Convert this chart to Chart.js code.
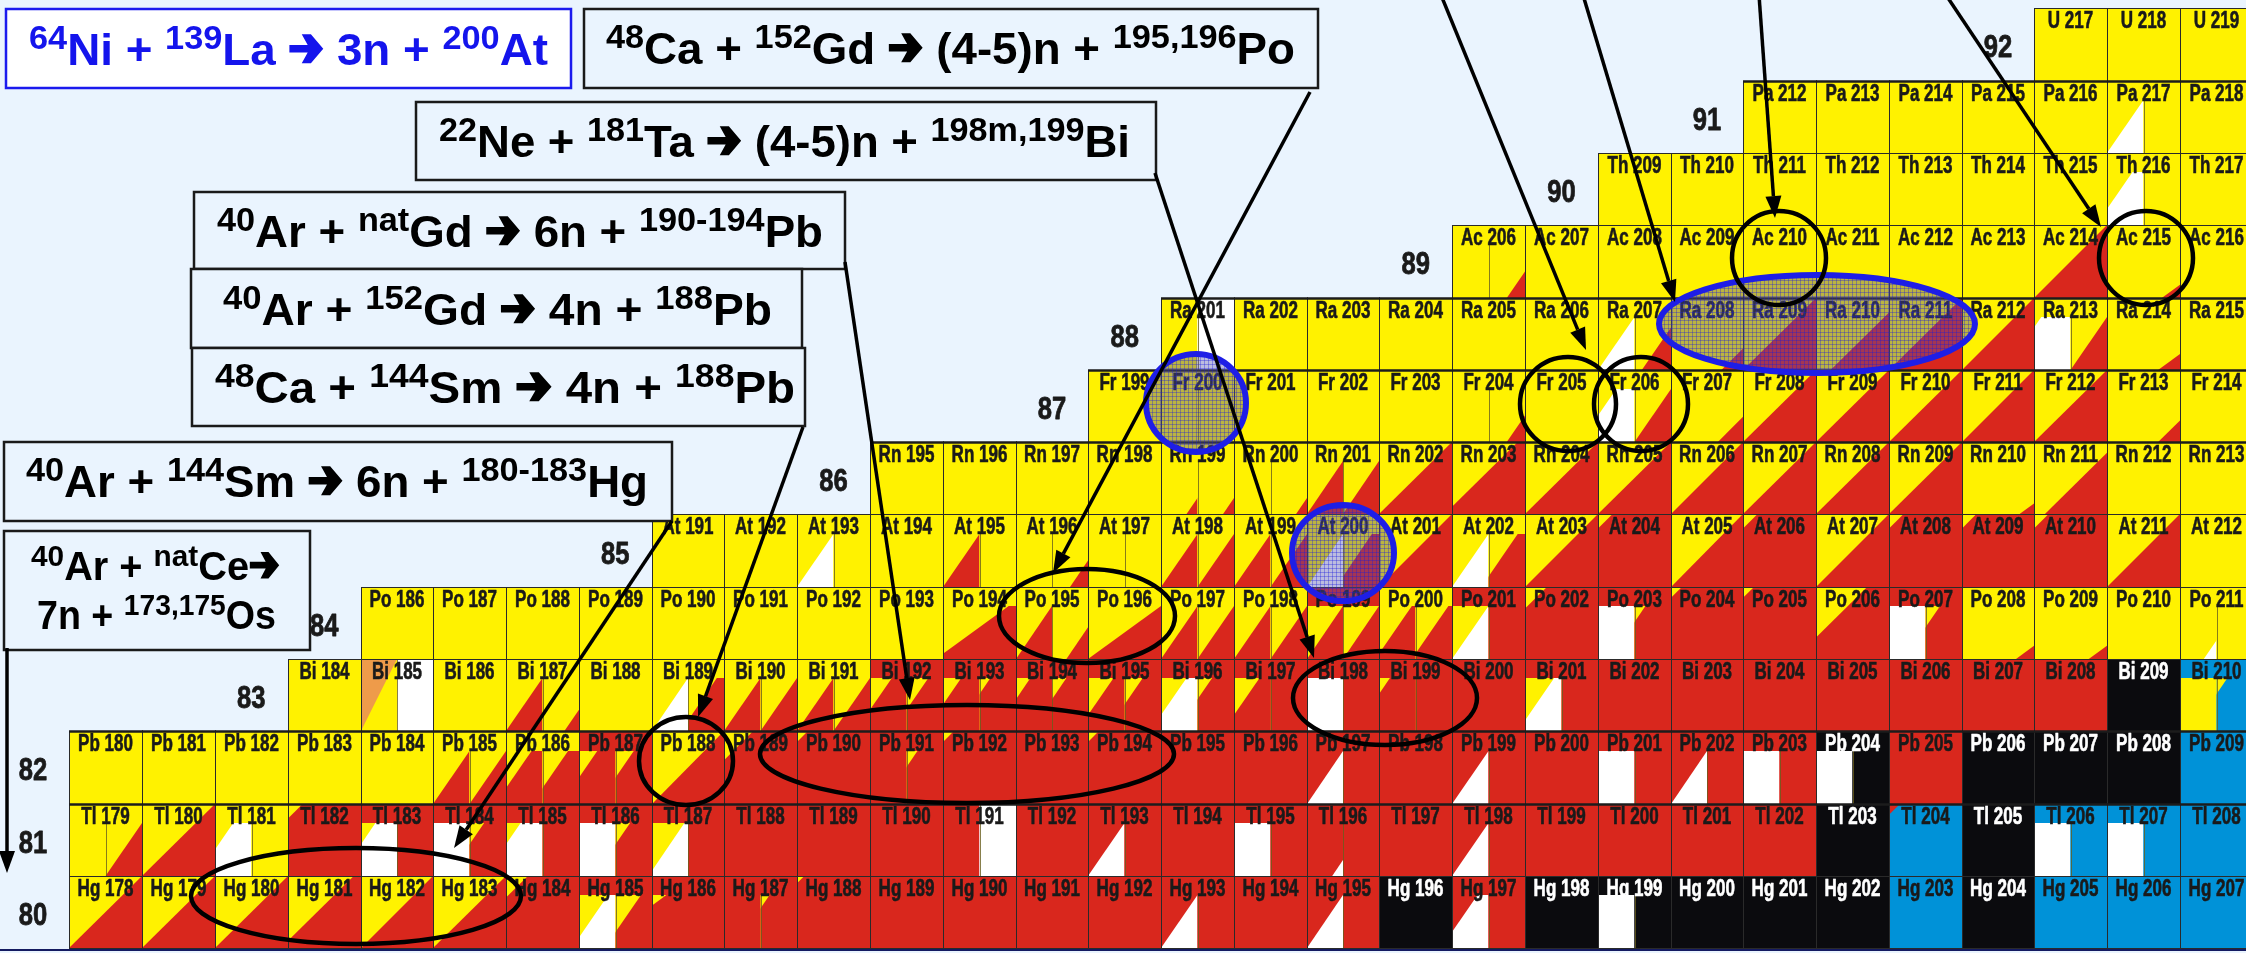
<!DOCTYPE html>
<html><head><meta charset="utf-8">
<script src="https://cdn.jsdelivr.net/npm/chart.js@4.4.0/dist/chart.umd.min.js"></script>
<style>html,body{margin:0;padding:0;background:#eaf4fe;overflow:hidden}canvas{display:block}</style>
</head><body>
<canvas id="c" width="2246" height="953"></canvas>
<script>
// ── DATA ─────────────────────────────────────────────────
// one row per element; cell code = band:part|part  (band '-' = none)
// part = base colour [+ triangle colour + size]
var symbols=['Hg','Tl','Pb','Bi','Po','At','Rn','Fr','Ra','Ac','Th','Pa','U'];
var protons=[80,81,82,83,84,85,86,87,88,89,90,91,92];
var firstMass=[178,179,180,184,186,191,195,199,201,206,209,212,217];

var hgCells=['-:YR1','-:YR1','-:YR1','-:YR1.1','-:YR1','-:YR1','-:YR1.7','R:YW1.2|YR1.3','R:YR1.8','R:R|YR1.75',
  '-:YR1.9','R','R','R','R','R:RW1|R','R','R:RW1|R','K','R:RW1.3|R',
  'K','K:W|K','K','K','K','B','K','B','B','B'];
var tlCells=['Y:Y|YR1','-:YR1','Y:YW1.5|Y','-:YR1.8','R:YW1.6|R','R:W|YR1.6','R:YW1.6|R','R:W|YR1.6','R:YW1.1|R','R',
  'R','R','-:R|W','R','R:RW1|R','R','R:W|R','R:RW0.3|R','R','R:RW1|R',
  'R','R','R','R','K','-:RB1.85','K','B:W|B','B:W|B','B'];
var pbCells=['Y','Y','Y','Y','Y','Y:YR1|YR1','Y:YR1.3|YR1.3','R:YR1.5|YR1.5','-:YR1','-:YR1.6',
  '-:YR1.85','R:R|YR1.7','-:YR1.85','R','-:YR1.85','R','R','R:RW1|R','R','R:RW1|R',
  'R','R:W|R','R:RW1|R','R:W|R','K:W|K','R','K','K','K','B'];
var biCells=['Y','-:OY1|W','Y','Y:YR1|YR0.4','Y','Y:YW1|YR1.2','Y:YR1|YR1','Y:YR1|YR1','R:YR1.4|YR1.4','R:YR1.5|YR1.7',
  'R:YR1.6|YR1.6','R:YR1.3|YR1.5','R:YW1.3|YR1.6','R:YR1.3|R','R:W|R','R:YR1.7|R','R','R:YW1.2|R','R','R',
  'R','R','R','R','R','K','B:Y|YB1.7'];
var poCells=['Y','Y','Y','Y','Y','Y','Y','Y','Y:YR1.1','Y:YR1|YR0.6',
  'Y:YR1','Y:YR1|YR1','Y:YR1|YR1','R:YR1|YR1','Y:YR1.1|YR1.1','R:YW1|R','-:YR1.7','R:W|YR1.7','-:YR1.85','-:YR1.85',
  '-:YR1.3','R:W|YR1.6','Y:YR0.25','Y:YR0.25','Y','Y:YW0.35|Y'];
var atCells=['Y','Y','Y:YW1|Y','Y','Y:YR1|Y','Y:Y|YR0.5','Y:Y|Y','Y:YR1|YR1','Y:YR1|YR1','Y:YW1|YR1.2',
  '-:YR1','Y:YW1|YR1.2','-:YR1','-:YR1.8','-:YR1','-:YR1.8','-:YR1','-:YR1.8','-:YR1.8','-:YR1.8',
  '-:YR1','Y'];
var rnCells=['Y','Y','Y','Y','Y:YR0.3|YR0.3','Y:Y|YR0.3','Y:YR1|YR1','-:YR1','-:YR1.1','-:YR1',
  '-:YR1','-:YR1','-:YR1','-:YR1','-:YR1','Y:YR0.2','-:YR0.85','Y','Y'];
var frCells=['Y','Y:Y|Y','Y','Y','Y','Y:Y|YR0.5','Y','Y:YW1.5|YR1','-:YR0.35','-:YR1',
  '-:YR1','-:YR1','-:YR1','-:YR1','-:YR0.3','Y'];
var raCells=['-:Y|W','Y','Y','Y','Y','Y','Y:YW1|YR0.8','-:YR0.3','-:YR1','-:YR0.8',
  '-:YR1','-:YR1','Y:YW1.8|YR1','Y:YR0.3','Y'];
var acCells=['Y:Y|YR0.5','Y','Y','Y','Y','Y','Y','Y','-:YR1','Y:YR0.25','Y'];
var thCells=['Y','Y','Y','Y','Y','Y','Y','Y:YW1.3|Y','Y'];
var paCells=['Y','Y','Y','Y','Y','Y:YW1|Y','Y'];
var uCells=['Y','Y','Y'];
var rowCells=[hgCells,tlCells,pbCells,biCells,poCells,atCells,rnCells,frCells,raCells,acCells,thCells,paCells,uCells];

// reactions (superscripts in ^{})
var reactions=[
  '^{64}Ni + ^{139}La ➔ 3n + ^{200}At',
  '^{48}Ca + ^{152}Gd ➔ (4-5)n + ^{195,196}Po',
  '^{22}Ne + ^{181}Ta ➔ (4-5)n + ^{198m,199}Bi',
  '^{40}Ar + ^{nat}Gd ➔ 6n + ^{190-194}Pb',
  '^{40}Ar + ^{152}Gd ➔ 4n + ^{188}Pb',
  '^{48}Ca + ^{144}Sm ➔ 4n + ^{188}Pb',
  '^{40}Ar + ^{144}Sm ➔ 6n + ^{180-183}Hg',
  '^{40}Ar + ^{nat}Ce➔',
  '7n + ^{173,175}Os'
];

// ── LAYOUT ───────────────────────────────────────────────
var X_MIN=96.5465, X_MAX=127.4065, Y_MIN=79.4338, Y_MAX=92.6148;
var COL={Y:'#fff200',R:'#d9271d',K:'#0b0b0e',B:'#0092d8',W:'#ffffff',O:'#ee9b4a'};
var BG='#eaf4fe';
var LABEL_FONT='"Liberation Sans","Arial",sans-serif';
var TEXT_FONT='"Liberation Sans","DejaVu Sans",sans-serif';

var boxes=[
  {x:6,y:9,w:565,h:79,border:'#1a1aee',fill:'#ffffff',color:'#1414ec',lines:[{r:0,x0:29,x1:548,base:65}]},
  {x:584,y:9,w:734,h:79,lines:[{r:1,x0:606,x1:1295,base:64}]},
  {x:416,y:102,w:740,h:78,lines:[{r:2,x0:439,x1:1130,base:157}]},
  {x:194,y:192,w:651,h:77,lines:[{r:3,x0:217,x1:823,base:247}]},
  {x:191,y:269,w:611,h:79,lines:[{r:4,x0:223,x1:772,base:325}]},
  {x:192,y:348,w:613,h:78,lines:[{r:5,x0:215,x1:795,base:403}]},
  {x:4,y:442,w:668,h:79,lines:[{r:6,x0:26,x1:648,base:497}]},
  {x:4,y:531,w:306,h:119,size:40,lines:[{r:7,x0:31,x1:280,base:580},{r:8,x0:37,x1:276,base:629}]}
];
var arrows=[[7,648,7,873],[672,521,454,848],[803,427,698,717],[845,262,910,700],[1310,92,1053,573],
  [1155,173,1314,658],[1441,-5,1586,350],[1583,-5,1675,302],[1759,-5,1775,218],[1946,-5,2101,227]];
var blackRings=[[356,896,165,48],[686,761,47,44],[967,754,207,49],[1087,616,88,47],[1385,698,92,47],
  [1568,404,48,47],[1641,404,47,47],[1779,258,47,47],[2146,258,47,47]];
var blueRings=[[1196,403,50,49],[1343,553,51,48],[1817,324,158,49]];

// ── BUILD POINTS ─────────────────────────────────────────
var cells=[];
rowCells.forEach(function(row,ri){
  var z=protons[ri];
  row.forEach(function(code,i){
    var a=firstMass[ri]+i;
    cells.push({x:a-z,y:z,code:code,label:symbols[ri]+' '+a});
  });
});

function parseCode(code){
  var band,body;
  if(code.indexOf(':')>=0){band=code.split(':')[0];body=code.split(':')[1];}
  else{band=code.charAt(0);body=code;}
  var parts=body.split('|').map(function(p){
    var m=p.match(/^([A-Z])(?:([A-Z])([\d.]+))?$/);
    return {base:m[1],tri:m[2]||null,s:m[3]?parseFloat(m[3]):0};
  });
  return {band:band,parts:parts};
}

function tri(ctx,x0,y0,w,h,s,color){
  ctx.save();
  ctx.beginPath();ctx.rect(x0,y0,w,h);ctx.clip();
  var ax=x0+(1-s)*w, ay=y0+h;
  ctx.beginPath();
  ctx.moveTo(ax-3*w,ay+3*h);
  ctx.lineTo(ax+3*w,ay-3*h);
  ctx.lineTo(ax+6*w,ay+3*h);
  ctx.closePath();
  ctx.fillStyle=color;ctx.fill();
  ctx.restore();
}

function fitText(ctx,text,cx,base,font,sx,color,sw){
  ctx.save();
  ctx.font=font;ctx.fillStyle=color;ctx.textAlign='center';ctx.textBaseline='alphabetic';
  ctx.translate(cx,base);ctx.scale(sx,1);
  ctx.fillText(text,0,0);
  if(sw){ctx.lineWidth=sw;ctx.strokeStyle=color;ctx.lineJoin='round';ctx.strokeText(text,0,0);}
  ctx.restore();
}

// heavy arrow like ➔, drawn as a path (em units, origin at baseline)
function heavyArrow(ctx,x,size){
  var pts=[[0,0.085],[0.40,0.085],[0.27,0.33],[0.47,0.33],[0.74,0],[0.47,-0.33],[0.27,-0.33],[0.40,-0.085],[0,-0.085]];
  var my=-0.37*size;
  ctx.beginPath();
  pts.forEach(function(p,i){var px=x+p[0]*size,py=my-p[1]*size;if(i)ctx.lineTo(px,py);else ctx.moveTo(px,py);});
  ctx.closePath();ctx.fill();
}

function richText(ctx,str,x0,x1,base,size,color){
  var segs=[],re=/\^\{([^}]*)\}|([^\^]+)/g,m;
  while((m=re.exec(str))){
    if(m[1]!==undefined){segs.push({t:m[1],sup:true});continue;}
    m[2].split('➔').forEach(function(t,i){
      if(i)segs.push({arrow:true});
      if(t)segs.push({t:t,sup:false});
    });
  }
  var main='bold '+size+'px '+TEXT_FONT, sup='bold '+Math.round(size*0.74)+'px '+TEXT_FONT;
  var total=0;
  segs.forEach(function(s){
    if(s.arrow){s.w=size*0.78;}
    else{ctx.font=s.sup?sup:main;s.w=ctx.measureText(s.t).width;}
    total+=s.w;
  });
  var k=(x1-x0)/total;
  ctx.save();
  ctx.fillStyle=color;ctx.textAlign='left';ctx.textBaseline='alphabetic';
  ctx.translate(x0,base);ctx.scale(k,1);
  var x=0;
  segs.forEach(function(s){
    if(s.arrow){heavyArrow(ctx,x+size*0.02,size);}
    else{ctx.font=s.sup?sup:main;ctx.fillText(s.t,x,s.sup?-size*0.36:0);}
    x+=s.w;
  });
  ctx.restore();
}

function arrow(ctx,x1,y1,x2,y2){
  var a=Math.atan2(y2-y1,x2-x1),hl=22,hw=8;
  var bx=x2-hl*Math.cos(a),by=y2-hl*Math.sin(a);
  ctx.beginPath();ctx.moveTo(x1,y1);ctx.lineTo(bx,by);ctx.stroke();
  ctx.beginPath();ctx.moveTo(x2,y2);
  ctx.lineTo(bx+hw*Math.sin(a),by-hw*Math.cos(a));
  ctx.lineTo(bx-hw*Math.sin(a),by+hw*Math.cos(a));
  ctx.closePath();ctx.fill();
}

function hatch(ctx){
  var p=document.createElement('canvas');p.width=4;p.height=4;
  var g=p.getContext('2d');
  g.fillStyle='rgba(80,80,170,0.38)';g.fillRect(0,0,4,4);
  g.fillStyle='rgba(30,30,220,0.35)';g.fillRect(0,0,4,1);g.fillRect(0,0,1,4);
  return ctx.createPattern(p,'repeat');
}

var nuclidePlugin={
  id:'nuclides',
  beforeDraw:function(chart){
    var ctx=chart.ctx;ctx.save();ctx.fillStyle=BG;ctx.fillRect(0,0,chart.width,chart.height);ctx.restore();
  },
  afterDatasetsDraw:function(chart){
    var ctx=chart.ctx,xs=chart.scales.x,ys=chart.scales.y;
    var pts=chart.data.datasets[0].data;
    ctx.save();
    var rects=pts.map(function(c){
      var L=Math.round(xs.getPixelForValue(c.x-0.5)),R=Math.round(xs.getPixelForValue(c.x+0.5));
      var T=Math.round(ys.getPixelForValue(c.y+0.5)),B=Math.round(ys.getPixelForValue(c.y-0.5));
      return {L:L,T:T,W:R-L,H:B-T,spec:parseCode(c.code),c:c};
    });
    // fills
    rects.forEach(function(r){
      var sp=r.spec,y0=r.T,h=r.H;
      if(sp.band!=='-'){ctx.fillStyle=COL[sp.band];ctx.fillRect(r.L,r.T,r.W,r.H);y0=r.T+Math.round(r.H*0.27);h=r.T+r.H-y0;}
      var pw=r.W/sp.parts.length;
      sp.parts.forEach(function(p,i){
        var x0=r.L+i*pw;
        ctx.fillStyle=COL[p.base];ctx.fillRect(x0,y0,pw,h);
        if(p.tri) tri(ctx,x0,y0,pw,h,p.s,COL[p.tri]);
      });
      if(sp.parts.length>1){
        ctx.strokeStyle='rgba(105,95,30,0.8)';ctx.lineWidth=1;
        ctx.beginPath();ctx.moveTo(r.L+Math.round(r.W/2)+0.5,y0);ctx.lineTo(r.L+Math.round(r.W/2)+0.5,r.T+r.H);ctx.stroke();
      }
    });
    // borders
    ctx.strokeStyle='#2a2a2a';ctx.lineWidth=1;
    rects.forEach(function(r){ctx.strokeRect(r.L+0.5,r.T+0.5,r.W,r.H);});
    ctx.lineWidth=2.5;ctx.strokeStyle='#1c1c1c';
    rects.forEach(function(r){
      var z=r.c.y;
      if(z===81||z===82||z===86||z===87||z===88||z===91){ctx.beginPath();ctx.moveTo(r.L,r.T+0.5);ctx.lineTo(r.L+r.W+1,r.T+0.5);ctx.stroke();}
    });
    // labels
    rects.forEach(function(r){
      var sp=r.spec,dark=(sp.band==='K')||(sp.band==='-'&&sp.parts[0].base==='K');
      fitText(ctx,r.c.label,r.L+r.W/2,r.T+20,'bold 23px '+LABEL_FONT,0.74,dark?'#ffffff':'#1a1a1a',0.6);
    });
    // proton numbers
    protons.forEach(function(z,ri){
      var n=firstMass[ri]-z-1;
      fitText(ctx,String(z),xs.getPixelForValue(n),ys.getPixelForValue(z)+13,'bold 32px '+LABEL_FONT,0.8,'#1a1a1a',0.8);
    });
    // blue rings
    var pat=hatch(ctx);
    blueRings.forEach(function(e){
      ctx.beginPath();ctx.ellipse(e[0],e[1],e[2],e[3],0,0,Math.PI*2);
      ctx.fillStyle=pat;ctx.fill();
      ctx.lineWidth=6;ctx.strokeStyle='#1e1ee6';ctx.stroke();
    });
    // black rings
    ctx.lineWidth=4.5;ctx.strokeStyle='#000';
    blackRings.forEach(function(e){ctx.beginPath();ctx.ellipse(e[0],e[1],e[2],e[3],0,0,Math.PI*2);ctx.stroke();});
    // bottom line
    ctx.fillStyle='#141a60';ctx.fillRect(0,949,chart.width,2);
    // boxes
    boxes.forEach(function(b){
      ctx.fillStyle=b.fill||BG;ctx.fillRect(b.x,b.y,b.w,b.h);
      ctx.lineWidth=2.5;ctx.strokeStyle=b.border||'#1a1a1a';ctx.strokeRect(b.x,b.y,b.w,b.h);
      b.lines.forEach(function(l){richText(ctx,reactions[l.r],l.x0,l.x1,l.base,b.size||44,b.color||'#000');});
    });
    // arrows
    ctx.lineWidth=3.5;ctx.strokeStyle='#000';ctx.fillStyle='#000';
    arrows.forEach(function(a){arrow(ctx,a[0],a[1],a[2],a[3]);});
    ctx.restore();
  }
};

new Chart(document.getElementById('c').getContext('2d'),{
  type:'scatter',
  data:{datasets:[{data:cells,pointRadius:0,pointHoverRadius:0}]},
  options:{
    responsive:false,animation:false,devicePixelRatio:1,
    layout:{padding:0},
    events:[],
    plugins:{legend:{display:false},tooltip:{enabled:false}},
    scales:{
      x:{type:'linear',min:X_MIN,max:X_MAX,display:false},
      y:{type:'linear',min:Y_MIN,max:Y_MAX,display:false}
    }
  },
  plugins:[nuclidePlugin]
});
</script>
</body></html>
